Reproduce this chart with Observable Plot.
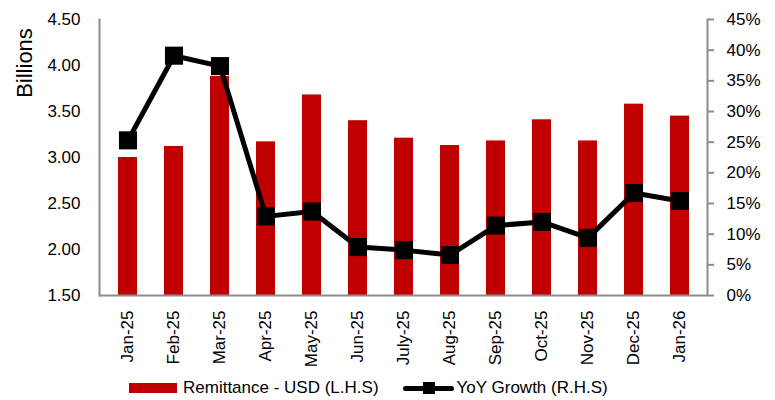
<!DOCTYPE html>
<html>
<head>
<meta charset="utf-8">
<script src="https://cdn.jsdelivr.net/npm/d3@7"></script>
<script src="https://cdn.jsdelivr.net/npm/@observablehq/plot@0.6"></script>
<style>
  body { margin: 0; background: #fff; font-family: "Liberation Sans", Arial, sans-serif; }
  #wrap { width: 775px; height: 400px; position: relative; }
  #legend { position: absolute; left: 129px; top: 372px; height: 32px; display: flex; align-items: center; font-size: 17px; color: #000; white-space: nowrap; }
  .sw-bar { width: 48px; height: 10px; background: #C00000; margin-right: 6px; }
  .sw-line { width: 51px; height: 12px; position: relative; margin-left: 24px; margin-right: 3px; }
  .sw-line .l { position: absolute; left: 0; right: 0; top: 4px; height: 5px; background: #000; border-radius: 3px; }
  .sw-line .m { position: absolute; left: 20px; top: 0; width: 12px; height: 12px; background: #000; }
</style>
</head>
<body>
<div id="wrap">
  <div id="chart"></div>
  <div id="legend">
    <div class="sw-bar"></div><span>Remittance - USD (L.H.S)</span>
    <div class="sw-line"><div class="l"></div><div class="m"></div></div><span>YoY Growth (R.H.S)</span>
  </div>
</div>
<script>
const months = ["Jan-25","Feb-25","Mar-25","Apr-25","May-25","Jun-25","July-25","Aug-25","Sep-25","Oct-25","Nov-25","Dec-25","Jan-26"];
const remittance = [3.00, 3.12, 3.88, 3.17, 3.68, 3.40, 3.21, 3.13, 3.18, 3.41, 3.18, 3.58, 3.45];
const yoyGrowth = [25.3, 39.1, 37.4, 12.9, 13.7, 7.9, 7.4, 6.6, 11.4, 12.0, 9.4, 16.7, 15.4];
const leftTicks = [1.5, 2.0, 2.5, 3.0, 3.5, 4.0, 4.5];
const rightTicks = [0, 5, 10, 15, 20, 25, 30, 35, 40, 45];

const leftMin = 1.5, leftMax = 4.5, rightMax = 45;
const toLeft = p => leftMin + p / rightMax * (leftMax - leftMin);
const toRight = v => (v - leftMin) / (leftMax - leftMin) * rightMax;

const data = months.map((m, i) => ({month: m, rem: remittance[i], yoy: yoyGrowth[i]}));
const axisGray = "#8c8c8c";

const chart = Plot.plot({
  width: 775,
  height: 372,
  marginLeft: 99,
  marginRight: 68,
  marginTop: 19,
  marginBottom: 77,
  style: {fontFamily: "Liberation Sans, Arial, sans-serif", fontSize: "17px", color: "#000", background: "#fff"},
  x: {type: "band", domain: months, paddingInner: 0.594, paddingOuter: 0.297, label: null},
  y: {domain: [leftMin, leftMax], label: null},
  marks: [
    Plot.barY(data, {x: "month", y1: () => leftMin, y2: "rem", fill: "#C00000"}),
    Plot.ruleY([leftMin], {stroke: axisGray, strokeWidth: 2}),
    Plot.frame({anchor: "left", stroke: axisGray, strokeWidth: 2}),
    Plot.frame({anchor: "right", stroke: axisGray, strokeWidth: 2}),
    Plot.line(data, {x: "month", y: d => toLeft(d.yoy), stroke: "#000", strokeWidth: 5}),
    Plot.dot(data, {x: "month", y: d => toLeft(d.yoy), symbol: "square", r: 10.2, fill: "#000", stroke: null}),
    Plot.axisX({tickSize: 0, tickPadding: 15, tickRotate: -90, fill: "#000"}),
    Plot.axisY({anchor: "left", ticks: leftTicks, tickSize: 0, tickPadding: 19, tickFormat: d3.format(".2f"), fill: "#000"}),
    Plot.axisY(rightTicks.map(toLeft), {anchor: "right", tickSize: 6, tickPadding: 13, stroke: axisGray, strokeWidth: 2, fill: "#000", tickFormat: v => Math.round(toRight(v)) + "%"})
  ]
});

d3.select(chart).append("text")
  .attr("transform", "translate(32,63) rotate(-90)")
  .attr("text-anchor", "middle")
  .attr("font-size", "22px")
  .attr("fill", "#000")
  .text("Billions");

document.getElementById("chart").appendChild(chart);
</script>
</body>
</html>
